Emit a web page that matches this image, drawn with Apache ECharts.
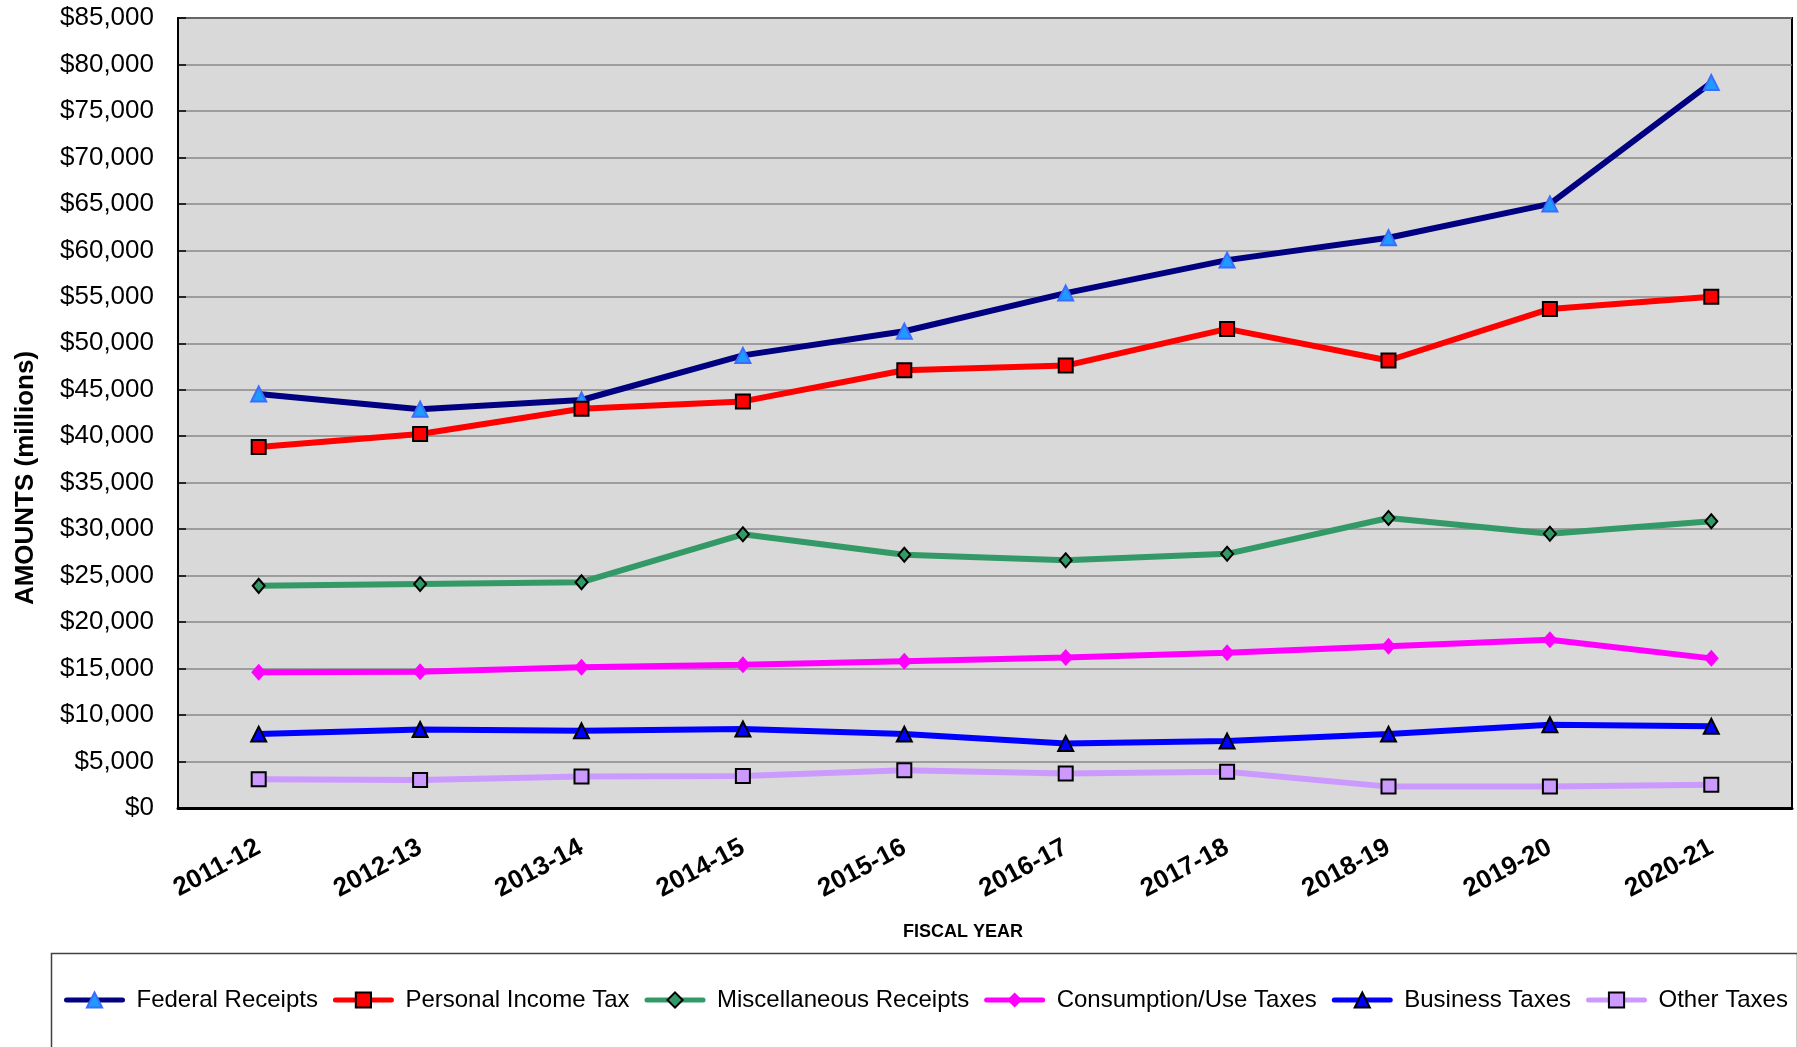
<!DOCTYPE html>
<html>
<head>
<meta charset="utf-8">
<title>Revenue by Source</title>
<script src="https://cdn.jsdelivr.net/npm/echarts@6/dist/echarts.min.js"></script>
<style>
  html, body { margin: 0; padding: 0; background: #fff; }
  #main { width: 1797px; height: 1047px; }
</style>
</head>
<body>
<div id="main"></div>
<script>
const years = ['2011-12', '2012-13', '2013-14', '2014-15', '2015-16', '2016-17', '2017-18', '2018-19', '2019-20', '2020-21']
const federal = [44550, 42900, 43900, 48700, 51300, 55400, 58950, 61350, 65000, 78050]
const personal = [38850, 40250, 42950, 43750, 47100, 47600, 51550, 48150, 53700, 55000]
const misc = [23900, 24100, 24300, 29450, 27250, 26650, 27350, 31200, 29500, 30850]
const consumption = [14600, 14650, 15150, 15400, 15800, 16200, 16700, 17400, 18100, 16100]
const business = [7950, 8450, 8300, 8500, 7950, 6950, 7200, 7950, 8950, 8800]
const other = [3100, 3000, 3400, 3450, 4050, 3700, 3900, 2300, 2300, 2500]

const font = 'Arial, "Liberation Sans", sans-serif'
const chart = echarts.init(document.getElementById('main'))

// one line series, markers carry their own border
function line(name, data, color, symbol, size, fill, border) {
  return {
    name: name,
    type: 'line',
    data: data,
    symbol: symbol,
    symbolSize: size,
    showAllSymbol: true,
    lineStyle: { color: color, width: 6 },
    itemStyle: { color: fill, borderColor: border || fill, borderWidth: border ? 2 : 0 },
    emphasis: { disabled: true },
    z: 3
  }
}

chart.setOption({
  animation: false,
  textStyle: { fontFamily: font },
  grid: {
    left: 178, top: 18, right: 5, bottom: 239,
    show: true, backgroundColor: '#d9d9d9', borderColor: '#000', borderWidth: 2,
    outerBoundsMode: 'none'
  },
  xAxis: [{
    type: 'category',
    data: years,
    boundaryGap: true,
    axisLine: { lineStyle: { color: '#000', width: 3 } },
    axisTick: { inside: true, length: 9, alignWithLabel: false, lineStyle: { color: '#000', width: 1.5 } },
    axisLabel: {
      interval: 0, rotate: 28, margin: 38,
      color: '#000', fontWeight: 'bold', fontSize: 26, fontFamily: font
    },
    splitLine: { show: false }
  }, {
    // short ticks at the category centres
    type: 'category',
    data: years,
    position: 'bottom',
    boundaryGap: true,
    axisLine: { show: false },
    axisTick: { inside: true, length: 6, alignWithLabel: true, lineStyle: { color: '#444', width: 1.5 } },
    axisLabel: { show: false },
    splitLine: { show: false }
  }],
  yAxis: {
    type: 'value',
    min: 0, max: 85000, interval: 5000,
    axisLine: { show: true, lineStyle: { color: '#000', width: 2 } },
    axisTick: { show: true, inside: true, length: 8, lineStyle: { color: '#000', width: 1.5 } },
    axisLabel: {
      margin: 24, color: '#000', fontSize: 26, fontFamily: font,
      formatter: v => '$' + v.toLocaleString('en-US')
    },
    splitLine: { lineStyle: { color: '#888', width: 1.5 } }
  },
  legend: {
    left: 59, top: 983, width: 1730,
    itemWidth: 56, itemHeight: 19, itemGap: 15,
    lineStyle: { width: 5, cap: 'round' },
    textStyle: { fontSize: 24, color: '#000', fontFamily: font, padding: [0, 0, 0, 9] },
    data: ['Federal Receipts', 'Personal Income Tax', 'Miscellaneous Receipts', 'Consumption/Use Taxes', 'Business Taxes', 'Other Taxes']
  },
  graphic: [
    {
      type: 'rect', left: 49, top: 951,
      shape: { width: 1746, height: 110 },
      style: { fill: 'none', stroke: '#404040', lineWidth: 1.5 }, silent: true
    },
    {
      type: 'text', x: 26, y: 478, rotation: Math.PI / 2,
      style: { text: 'AMOUNTS (millions)', fill: '#000', font: 'bold 26px ' + font, textAlign: 'center', textVerticalAlign: 'middle' }
    },
    {
      type: 'text', x: 963, y: 932,
      style: { text: 'FISCAL YEAR', fill: '#000', font: 'bold 18px ' + font, textAlign: 'center', textVerticalAlign: 'middle' }
    }
  ],
  series: [
    line('Federal Receipts', federal, '#000080', 'triangle', 15, '#1e9bff', '#3a6cff'),
    line('Personal Income Tax', personal, '#ff0000', 'rect', 14, '#ff0000', '#000'),
    line('Miscellaneous Receipts', misc, '#339966', 'diamond', [12, 14], '#339966', '#000'),
    line('Consumption/Use Taxes', consumption, '#ff00ff', 'diamond', [15, 17], '#ff00ff'),
    line('Business Taxes', business, '#0000ff', 'triangle', 15, '#0000ff', '#000'),
    line('Other Taxes', other, '#cc99ff', 'rect', 14, '#cc99ff', '#000')
  ]
})
</script>
</body>
</html>
